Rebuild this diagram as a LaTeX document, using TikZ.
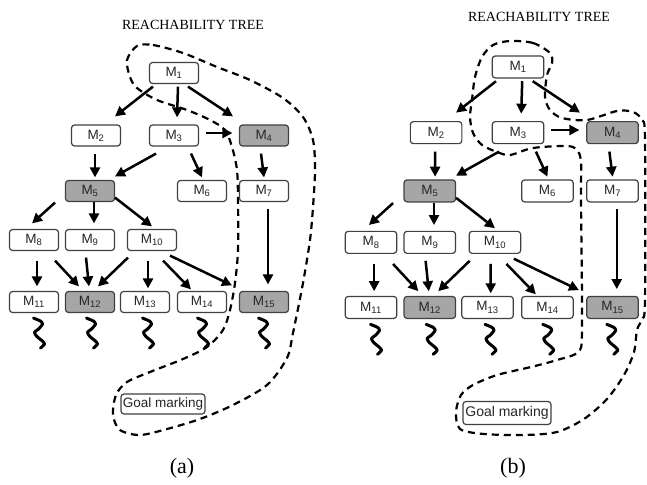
\documentclass[tikz,border=0pt]{standalone}
\usepackage{fontspec}
\setmainfont{Liberation Serif}
\setsansfont{Liberation Sans}
\usetikzlibrary{arrows.meta}

\tikzset{
  markbox/.style={draw=black!75, line width=1.2pt, rounded corners=3pt, fill=white,
    minimum width=49pt, minimum height=21pt, inner sep=0pt, text=black!85,
    font=\fontsize{13.5}{13.5}\selectfont\sffamily},
  textbox/.style={markbox, minimum width=84pt, minimum height=20pt,
    font=\fontsize{13.5}{13.5}\selectfont\sffamily},
  arr/.style={line width=2.5pt, -{Triangle[length=10pt,width=10pt]}},
  zone/.style={line width=2.2pt, dash pattern=on 7pt off 5pt, line cap=butt},
  wiggle/.pic={\draw[line width=3pt, line cap=round, line join=round]
    plot[smooth, tension=0.4] coordinates {(0,0) (7,3) (9,6) (5,11) (1,14) (3,18) (9,23) (11,26) (7,30)};}
}

% one reachability tree, node names get the prefix #1
\newcommand{\reachtree}[1]{%
  \foreach \i/\x/\y/\f in {1/174/73/white, 2/96/135.5/white, 3/174/135.5/white,
      4/264/135.5/black!35, 5/90/191/black!35, 6/202/191/white, 7/264/191/white,
      8/34/240/white, 9/90/240/white, 10/152/240/white, 11/34/302/white,
      12/90/302/black!35, 13/145/302/white, 14/202/302/white, 15/264/302/black!35}
    \node[markbox, fill=\f] (#1\i) at (\x,\y) {M\textsubscript{\i}};
  \foreach \p/\pa/\px/\py/\q/\qa/\qx/\qy in {
      1/south/-21/2.5/2/north/19/-8,
      1/south/4/2.5/3/north/3/-7,
      1/south/14/2.5/4/north/-31/-8,
      3/east/6.5/-2.5/4/west/-6.5/-2.5,
      2/south/-1/7/5/north/5/-2.5,
      3/south/-18/7/5/north/25/-3.5,
      3/south/17/7/6/north/0/-2.5,
      4/south/-3/7/7/north/0/-2.5,
      5/south/-35/0.5/8/north/-2/-5.5,
      5/south/4/0/9/north/4/-5.5,
      5/south/25/-4.5/10/north/0/-2.5,
      7/south/4/6.5/15/north/4/-6.5,
      8/south/3/9.5/11/north/3/-4.5,
      8/south/21/9.5/12/north/-11/-4.5,
      9/south/-4/6.5/12/north/-1/-4.5,
      10/south/-24/6.5/12/north/8/-4.5,
      10/south/-4/9.5/13/north/3/-2.5,
      10/south/11/9.5/14/north/-11/-1.5,
      10/south/18/4.5/15/north/-32/-5.5}
    \draw[arr] ([shift={(\px,\py)}]#1\p.\pa) -- ([shift={(\qx,\qy)}]#1\q.\qa);
  \foreach \i/\dx in {11/5, 12/2, 13/3, 14/1, 15/0}
    \pic at ([shift={(\dx-5.5,5)}]#1\i.south) {wiggle};
}

\begin{document}
\begin{tikzpicture}[x=1pt, y=-1pt, line join=round]
  \useasboundingbox (0,0) rectangle (647,484);

  % (a)
  \node[font=\fontsize{14}{14}\selectfont] (titlea) at (193,25) {REACHABILITY TREE};
  \draw[zone] plot[smooth cycle, tension=0.5] coordinates {(137,46) (153,45) (183,53)
    (217,67) (250,80) (283,98) (303,117) (313,140) (315,170) (313,207) (310,240)
    (303,283) (293,333) (287,358) (267,385) (233,405) (200,419) (167,429) (140,435)
    (120,430) (113,415) (116,395) (127,382) (150,372) (183,359) (207,347) (223,330)
    (230,310) (235,283) (238,250) (238,200) (237,170) (232,147) (225,130) (210,120)
    (187,110) (157,100) (137,88) (130,77) (127,60)};
  \reachtree{a}
  \node[textbox] (goala) at (163,404) {Goal marking};
  \node[font=\fontsize{22}{22}\selectfont] (capa) at (182,468) {(a)};

  % (b)
  \node[font=\fontsize{14}{14}\selectfont] (titleb) at (539,17) {REACHABILITY TREE};
  \draw[zone] plot[smooth cycle, tension=0.5] coordinates {(510,41) (533,43) (550,53)
    (552,63) (547,75) (545,97) (550,110) (562,118) (587,120) (617,111) (633,112)
    (642,120) (645,140) (645,300) (642,319) (637,330) (634,352) (624,375) (607,399)
    (584,419) (557,432) (524,435) (484,434) (460,429) (456,412) (461,395) (473,385)
    (497,375) (531,367) (557,360) (578,352) (582,330) (581,200) (581,162) (577,150)
    (567,146) (533,148) (510,155) (497,152) (482,145) (473,133) (470,117) (472,100)
    (475,77) (482,57) (493,45)};
  \begin{scope}[shift={(335.3,-9.65)}, scale=1.05,
      markbox/.append style={minimum width=51.5pt, minimum height=22pt}]
    \reachtree{b}
  \end{scope}
  \node[textbox, minimum width=88pt, minimum height=23pt,
    font=\fontsize{14}{14}\selectfont\sffamily] (goalb) at (507,413) {Goal marking};
  \node[font=\fontsize{22}{22}\selectfont] (capb) at (513,468) {(b)};
\end{tikzpicture}
\end{document}
